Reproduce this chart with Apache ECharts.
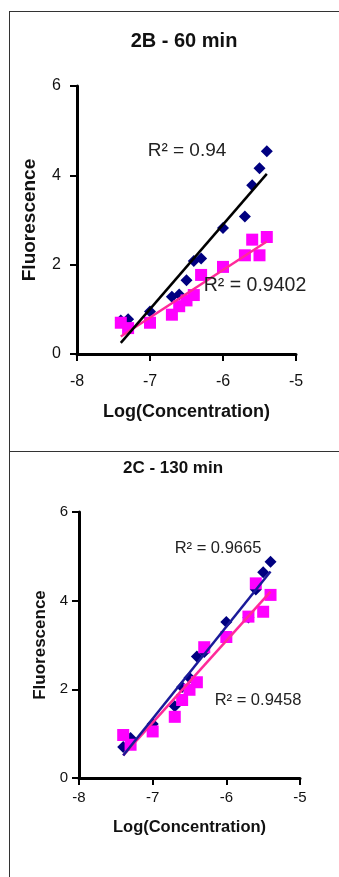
<!DOCTYPE html>
<html>
<head>
<meta charset="utf-8">
<script src="https://cdn.jsdelivr.net/npm/echarts@6/dist/echarts.min.js"></script>
<style>
  html, body { margin: 0; padding: 0; background: #fff; }
  #chart { width: 339px; height: 877px; }
</style>
</head>
<body>
<div id="chart"></div>
<script>
// log concentrations shared by both panels
var logConc = [-7.4, -7.3, -7.0, -6.7, -6.6, -6.5, -6.4, -6.3, -6.0, -5.7, -5.6, -5.5, -5.4];

// 2B - 60 min
var blue60 = [0.75, 0.78, 0.95, 1.28, 1.33, 1.65, 2.08, 2.14, 2.82, 3.08, 3.78, 4.16, 4.54];
var pink60 = [0.70, 0.58, 0.70, 0.88, 1.07, 1.20, 1.32, 1.77, 1.95, 2.21, 2.56, 2.21, 2.62];

// 2C - 130 min
var blue130 = [0.70, 0.90, 1.22, 1.62, 2.05, 2.26, 2.74, 2.84, 3.52, 3.62, 4.25, 4.64, 4.88];
var pink130 = [0.97, 0.75, 1.05, 1.38, 1.76, 1.99, 2.16, 2.95, 3.18, 3.64, 4.39, 3.75, 4.13];

var xTicks = [-8, -7, -6, -5];
var yTicks = [0, 2, 4, 6];
var panelTitles = ['2B - 60 min', '2C - 130 min'];
var r2Labels = ['R\u00b2 = 0.94', 'R\u00b2 = 0.9402', 'R\u00b2 = 0.9665', 'R\u00b2 = 0.9458'];

var FONT = '"Liberation Sans", Arial, sans-serif';

function pairs(xs, ys) {
    return xs.map(function (x, i) { return [x, ys[i]]; });
}

// least squares trendline over the data range
function trend(xs, ys) {
    var n = xs.length, mx = 0, my = 0;
    for (var i = 0; i < n; i++) { mx += xs[i]; my += ys[i]; }
    mx /= n; my /= n;
    var sxy = 0, sxx = 0;
    for (var j = 0; j < n; j++) {
        sxy += (xs[j] - mx) * (ys[j] - my);
        sxx += (xs[j] - mx) * (xs[j] - mx);
    }
    var b = sxy / sxx, a = my - b * mx;
    var x0 = Math.min.apply(null, xs), x1 = Math.max.apply(null, xs);
    return [[x0, a + b * x0], [x1, a + b * x1]];
}

function xAxisCfg(grid, labelSize, labelMargin, nameSize, nameGap) {
    return {
        type: 'value', gridIndex: grid,
        min: xTicks[0], max: xTicks[xTicks.length - 1], interval: 1,
        name: 'Log(Concentration)', nameLocation: 'middle', nameGap: nameGap,
        nameTextStyle: { fontFamily: FONT, fontWeight: 'bold', fontSize: nameSize, color: '#111' },
        axisLine: { onZero: false, lineStyle: { color: '#000', width: 3 } },
        axisTick: { length: 7, lineStyle: { color: '#000', width: 2 } },
        axisLabel: { fontFamily: FONT, fontSize: labelSize, color: '#111', margin: labelMargin },
        splitLine: { show: false }
    };
}

function yAxisCfg(grid, labelSize, labelMargin, nameSize, nameGap) {
    return {
        type: 'value', gridIndex: grid,
        min: yTicks[0], max: yTicks[yTicks.length - 1], interval: 2,
        name: 'Fluorescence', nameLocation: 'middle', nameGap: nameGap, nameRotate: 90,
        nameTextStyle: { fontFamily: FONT, fontWeight: 'bold', fontSize: nameSize, color: '#111' },
        axisLine: { onZero: false, lineStyle: { color: '#000', width: 3 } },
        axisTick: { length: 7, lineStyle: { color: '#000', width: 2 } },
        axisLabel: { fontFamily: FONT, fontSize: labelSize, color: '#111', margin: labelMargin },
        splitLine: { show: false }
    };
}

function dots(grid, ys, symbol, color, size) {
    return {
        type: 'scatter', xAxisIndex: grid, yAxisIndex: grid,
        data: pairs(logConc, ys), symbol: symbol, symbolSize: size,
        itemStyle: { color: color, opacity: 1 }, z: 2
    };
}

function fit(grid, ys, color) {
    return {
        type: 'line', xAxisIndex: grid, yAxisIndex: grid,
        data: trend(logConc, ys), symbol: 'none', silent: true,
        lineStyle: { color: color, width: 2.5 }, z: 3
    };
}

function r2Text(text, x, y, size) {
    return {
        type: 'text', x: x, y: y, z: 10,
        style: { text: text, fill: '#222', font: size + 'px ' + FONT, align: 'center', verticalAlign: 'middle' }
    };
}

function frameLine(x1, y1, x2, y2) {
    return { type: 'line', shape: { x1: x1, y1: y1, x2: x2, y2: y2 }, style: { stroke: '#333', lineWidth: 1 } };
}

var chart = echarts.init(document.getElementById('chart'));

var option = {
    backgroundColor: '#fff',
    animation: false,
    title: [
        { text: panelTitles[0], left: 184, top: 31, padding: 0, textAlign: 'center',
          textStyle: { fontFamily: FONT, fontWeight: 'bold', fontSize: 20, color: '#111' } },
        { text: panelTitles[1], left: 173, top: 460, padding: 0, textAlign: 'center',
          textStyle: { fontFamily: FONT, fontWeight: 'bold', fontSize: 17, color: '#111' } }
    ],
    grid: [
        { left: 77, top: 86, width: 219, height: 268 },
        { left: 79, top: 512, width: 221, height: 266 }
    ],
    xAxis: [xAxisCfg(0, 16, 20, 18, 49), xAxisCfg(1, 15, 12, 16.5, 41)],
    yAxis: [yAxisCfg(0, 16, 16, 19, 38), yAxisCfg(1, 15, 11, 17, 30)],
    series: [
        dots(0, blue60, 'diamond', '#000080', 12),
        dots(0, pink60, 'rect', '#ff00ff', 12),
        fit(0, pink60, '#ff2a9a'),
        fit(0, blue60, '#000000'),
        dots(1, blue130, 'diamond', '#000080', 12),
        dots(1, pink130, 'rect', '#ff00ff', 12),
        fit(1, pink130, '#ff2a9a'),
        fit(1, blue130, '#1a1a99')
    ],
    graphic: [
        frameLine(9.5, 11, 9.5, 877),
        frameLine(9, 11.5, 339, 11.5),
        frameLine(9, 451.5, 339, 451.5),
        r2Text(r2Labels[0], 187, 151, 19),
        r2Text(r2Labels[1], 255, 286, 19.5),
        r2Text(r2Labels[2], 218, 548, 16.5),
        r2Text(r2Labels[3], 258, 700, 16.5)
    ]
};

chart.setOption(option);
</script>
</body>
</html>
